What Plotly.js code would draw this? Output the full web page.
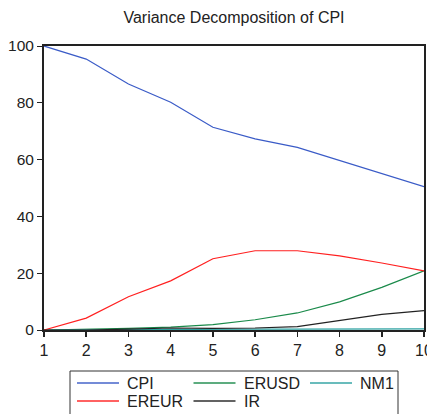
<!DOCTYPE html>
<html><head><meta charset="utf-8">
<script src="https://cdn.plot.ly/plotly-3.0.1.min.js"></script>
<style>html,body{margin:0;padding:0;background:#fff;}</style>
</head><body>
<div id="chart" style="width:427px;height:414px;"></div>
<script>
const periods = [1,2,3,4,5,6,7,8,9,10];
const cpi   = [100, 95.4, 86.6, 80.2, 71.4, 67.3, 64.3, 59.7, 55.2, 50.5];
const ereur = [0, 4.2, 11.7, 17.3, 25.1, 27.9, 27.9, 26.1, 23.6, 20.8];
const erusd = [0, 0.2, 0.6, 1.0, 1.9, 3.6, 6.0, 9.9, 15.0, 20.8];
const nm1   = [0, 0.1, 0.2, 0.3, 0.3, 0.3, 0.3, 0.3, 0.35, 0.4];
const ir    = [0, 0.0, 0.3, 0.7, 0.6, 0.7, 1.2, 3.4, 5.5, 6.8];
const names = ['CPI','ERUSD','NM1','EREUR','IR'];
const series = [cpi, erusd, nm1, ereur, ir];
const colors = ['#3a5bc7','#1a8a4a','#2aa0a0','#ff2020','#222222'];

const traces = series.map((s,i)=>({
  x: periods, y: s, name: names[i], type:'scatter', mode:'lines',
  line:{color:colors[i], width:1.2}
}));

// manual legend (pixel geometry converted to paper coords)
const PX0 = 44, PW = 380, PY0 = 330, PH = 284;
const px = v => (v - PX0) / PW;
const py = v => (PY0 - v) / PH;
const shapes = [{type:'rect', xref:'paper', yref:'paper', x0:px(70), x1:px(398), y0:py(371), y1:py(440),
                 line:{color:'#333', width:1}, fillcolor:'rgba(0,0,0,0)'}];
const annotations = [];
names.forEach((n,i)=>{
  const col = i % 3, row = Math.floor(i / 3);
  const lx = 77 + col * 116.5, ly = 383 + row * 18;
  shapes.push({type:'line', xref:'paper', yref:'paper', x0:px(lx), x1:px(lx+42), y0:py(ly), y1:py(ly),
               line:{color:colors[i], width:2}, opacity:0.7});
  annotations.push({text:n, xref:'paper', yref:'paper', x:px(lx+48), y:py(ly), xanchor:'left', yanchor:'middle',
                    showarrow:false, font:{size:16, color:'#222'}});
});

const layout = {
  width:427, height:414,
  margin:{l:44, r:3, t:46, b:84},
  paper_bgcolor:'#fff', plot_bgcolor:'#fff',
  font:{family:'Liberation Sans, Arial, sans-serif', color:'#222', size:15.5},
  title:{text:'Variance Decomposition of CPI', x:0.548, xanchor:'center', y:0.958, yanchor:'middle',
         font:{size:16, color:'#222'}},
  xaxis:{range:[1,10], tickvals:periods, ticks:'outside', ticklen:5, tickwidth:1.5, tickcolor:'#222',
         showline:true, linecolor:'#222', linewidth:2, mirror:true, showgrid:false, zeroline:false,
         ticklabeloverflow:'allow', tickfont:{size:16}},
  yaxis:{range:[0,100], tickvals:[0,20,40,60,80,100], ticks:'outside', ticklen:5, tickwidth:1, tickcolor:'#222',
         showline:true, linecolor:'#222', linewidth:2, mirror:true, showgrid:false, zeroline:false,
         tickfont:{size:15.5}},
  showlegend:false,
  shapes: shapes,
  annotations: annotations
};
Plotly.newPlot('chart', traces, layout, {displayModeBar:false, staticPlot:true});
</script>
</body></html>
